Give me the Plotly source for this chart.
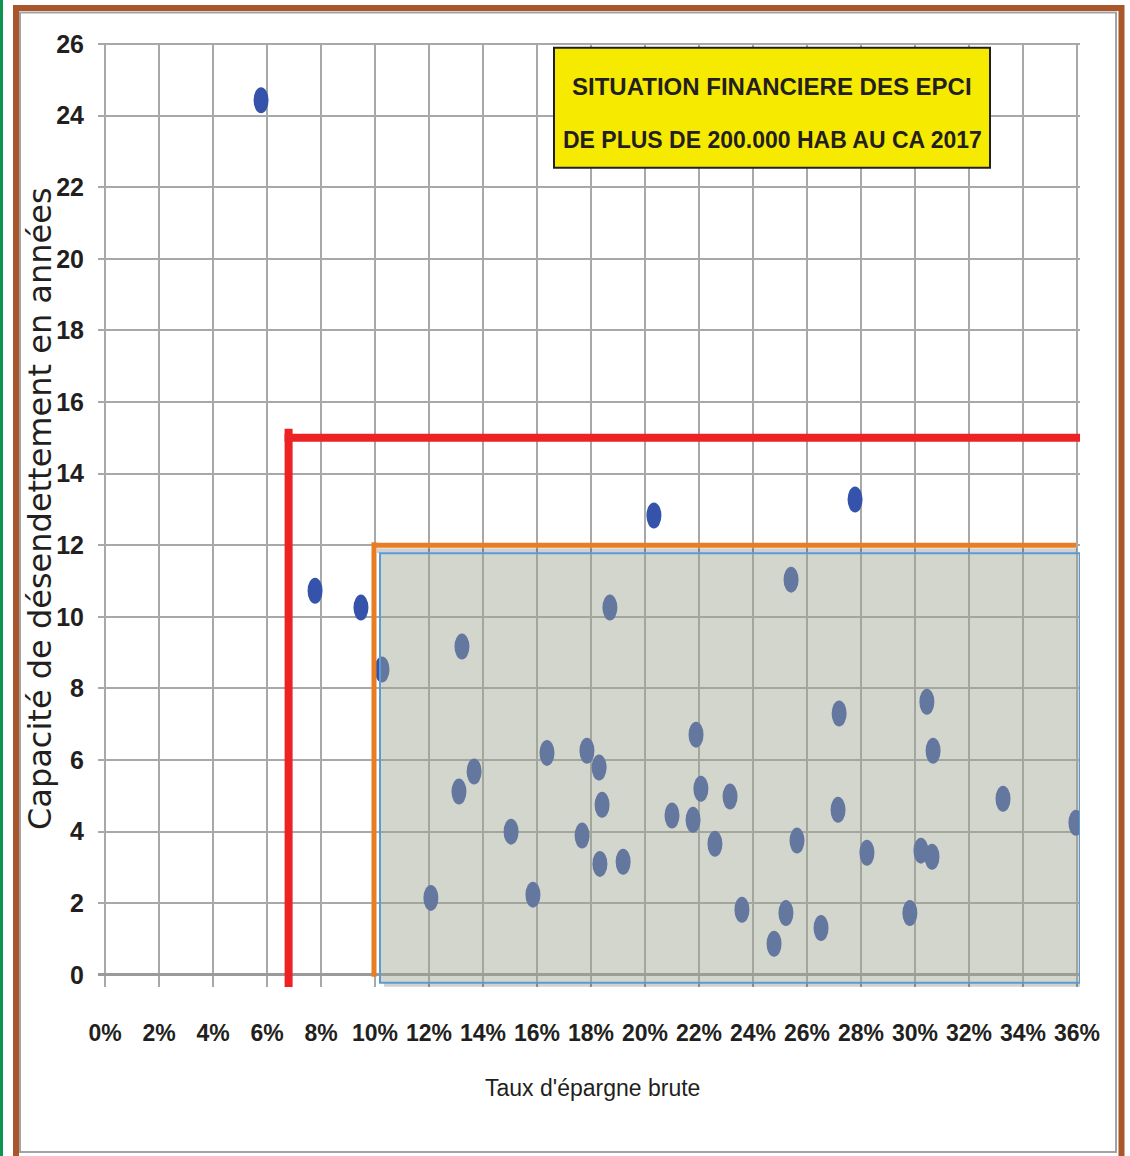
import plotly.graph_objects as go

# Taux d'épargne brute (fraction) and capacité de désendettement (années) per EPCI
taux_epargne = [
    0.0578, 0.0778, 0.0948, 0.2033, 0.2778,
    0.1026, 0.1322, 0.1870, 0.2541, 0.2189, 0.2719, 0.3044, 0.3067,
    0.2207, 0.2315, 0.2100, 0.2178, 0.2259, 0.2715, 0.2563, 0.2822,
    0.3022, 0.3063, 0.2359, 0.2522, 0.2652, 0.2478, 0.2981, 0.3326,
    0.3596, 0.1367, 0.1311, 0.1637, 0.1785, 0.1830, 0.1841, 0.1504,
    0.1767, 0.1833, 0.1919, 0.1207, 0.1585,
]
capacite_desendettement = [
    24.43, 10.73, 10.26, 12.83, 13.28,
    8.53, 9.17, 10.26, 11.04, 6.71, 7.30, 7.63, 6.26,
    5.20, 4.98, 4.45, 4.33, 3.66, 4.61, 3.75, 3.41,
    3.47, 3.30, 1.82, 1.73, 1.31, 0.87, 1.73, 4.92,
    4.25, 5.68, 5.12, 6.20, 6.26, 5.79, 4.75, 4.00,
    3.89, 3.10, 3.16, 2.15, 2.24,
]

# Reference thresholds
seuil_rouge_x = 0.068
seuil_rouge_y = 15
seuil_orange_x = 0.10
seuil_orange_y = 12

x_ticks = [i / 100 for i in range(0, 37, 2)]
y_ticks = list(range(0, 27, 2))

titre = ["SITUATION FINANCIERE DES EPCI", "DE PLUS DE 200.000 HAB AU CA 2017"]
titre_x = "Taux d'épargne brute"
titre_y = "Capacité de désendettement en années"

W, H = 1130, 1156
ML, MR, MT, MB = 98, 50, 43, 169
PW, PH = W - ML - MR, H - MT - MB
X_PER = 2700.0   # pixels per unit on x
Y_PER = 35.8     # pixels per unit on y
X_MIN = -7 / X_PER
X_MAX = X_MIN + PW / X_PER
Y_MAX = 26.03
Y_MIN = Y_MAX - PH / Y_PER


def px(xp):
    return (xp - ML) / PW


def py(yp):
    return (H - MB - yp) / PH


def dx(p):
    return p / X_PER


def dy(p):
    return p / Y_PER


SANS = "Liberation Sans, Arial, sans-serif"
INK = "#231f20"
DOT = "#3553ab"

fig = go.Figure()
fig.add_trace(go.Scatter(
    x=taux_epargne, y=capacite_desendettement, mode="markers",
    marker=dict(size=14, color=DOT, opacity=0),
    showlegend=False, hoverinfo="x+y",
))

shapes = []
# page frame
shapes.append(dict(type="rect", xref="paper", yref="paper",
                   x0=px(0), x1=px(3), y0=py(1160), y1=py(-2),
                   line=dict(width=0), fillcolor="#0b9551", layer="above"))
shapes.append(dict(type="rect", xref="paper", yref="paper",
                   x0=px(16), x1=px(1121.5), y0=py(1170), y1=py(8),
                   line=dict(width=6, color="#a9572a"), fillcolor="rgba(0,0,0,0)", layer="above"))
shapes.append(dict(type="rect", xref="paper", yref="paper",
                   x0=px(20), x1=px(1116), y0=py(1152), y1=py(12.5),
                   line=dict(width=2, color="#a3a3a3"), fillcolor="rgba(0,0,0,0)", layer="above"))

# red thresholds
shapes.append(dict(type="line", x0=seuil_rouge_x, x1=seuil_rouge_x,
                   y0=Y_MIN, y1=seuil_rouge_y + dy(9),
                   line=dict(color="#ed2224", width=8), layer="above"))
shapes.append(dict(type="line", x0=seuil_rouge_x - dx(4), x1=X_MAX,
                   y0=seuil_rouge_y, y1=seuil_rouge_y,
                   line=dict(color="#ed2224", width=8), layer="above"))

# points
for xv, yv in zip(taux_epargne, capacite_desendettement):
    shapes.append(dict(type="circle", x0=xv - dx(7.5), x1=xv + dx(7.5),
                       y0=yv - dy(13), y1=yv + dy(13),
                       line=dict(width=0), fillcolor=DOT, layer="above"))

# orange thresholds
shapes.append(dict(type="line", x0=seuil_orange_x - dx(1), x1=seuil_orange_x - dx(1),
                   y0=-0.05, y1=seuil_orange_y + dy(3),
                   line=dict(color="#e97d23", width=5), layer="above"))
shapes.append(dict(type="line", x0=seuil_orange_x - dx(1), x1=0.36 - dx(1),
                   y0=seuil_orange_y, y1=seuil_orange_y,
                   line=dict(color="#e97d23", width=5), layer="above"))
# faint shadow under the orange line
shapes.append(dict(type="rect", x0=seuil_orange_x + dx(2), x1=0.36,
                   y0=seuil_orange_y - dy(8), y1=seuil_orange_y - dy(3),
                   line=dict(width=0), fillcolor="rgba(0,0,0,0.18)", layer="above"))

# shaded zone with drop shadow
zx0, zx1 = seuil_orange_x + dx(5), X_MAX
zy0, zy1 = -dy(8), seuil_orange_y - dy(8)
shapes.append(dict(type="rect", x0=zx0 + dx(4), x1=zx1 + dx(4), y0=zy0 - dy(4), y1=zy0,
                   line=dict(width=0), fillcolor="rgba(0,0,0,0.18)", layer="above"))
shapes.append(dict(type="rect", x0=zx0, x1=zx1, y0=zy0, y1=zy1,
                   line=dict(width=2, color="#5b9bd5"),
                   fillcolor="rgba(158,165,145,0.45)", layer="above"))

# title box
shapes.append(dict(type="rect", x0=dx(554 - 105), x1=dx(990 - 105),
                   y0=dy(975 - 168), y1=dy(975 - 48),
                   line=dict(width=2, color=INK), fillcolor="#f6ea00", layer="above"))

annotations = [
    dict(x=dx(772 - 105), y=dy(975 - 87), text=titre[0], showarrow=False,
         xanchor="center", yanchor="middle",
         font=dict(family=SANS, size=24, color=INK, weight="bold")),
    dict(x=dx(772 - 105), y=dy(975 - 140), text=titre[1], showarrow=False,
         xanchor="center", yanchor="middle",
         font=dict(family=SANS, size=23, color=INK, weight="bold")),
    dict(xref="paper", yref="paper", x=px(592), y=py(1088), text=titre_x,
         showarrow=False, xanchor="center", yanchor="middle",
         font=dict(family=SANS, size=23, color=INK)),
    dict(xref="paper", yref="paper", x=px(40), y=py(509), text=titre_y,
         showarrow=False, textangle=-90, xanchor="center", yanchor="middle",
         font=dict(family="DejaVu Sans, Verdana, sans-serif", size=32, color=INK)),
]

fig.update_layout(
    width=W, height=H,
    margin=dict(l=ML, r=MR, t=MT, b=MB, pad=0),
    paper_bgcolor="white", plot_bgcolor="white",
    shapes=shapes, annotations=annotations, showlegend=False,
    xaxis=dict(range=[X_MIN, X_MAX], tickvals=x_ticks, tickformat=".0%",
               showgrid=True, gridcolor="#a8a8a8", gridwidth=2, zeroline=False,
               showline=False, ticks="", tickangle=0, ticklabelstandoff=30,
               tickfont=dict(family=SANS, size=23, color=INK, weight="bold")),
    yaxis=dict(range=[Y_MIN, Y_MAX], tickvals=y_ticks,
               showgrid=True, gridcolor="#a8a8a8", gridwidth=2,
               zeroline=True, zerolinecolor="#9a9a9a", zerolinewidth=3,
               showline=False, ticks="", ticklabelstandoff=13,
               tickfont=dict(family=SANS, size=25, color=INK, weight="bold")),
)

fig.write_html("out.html")
